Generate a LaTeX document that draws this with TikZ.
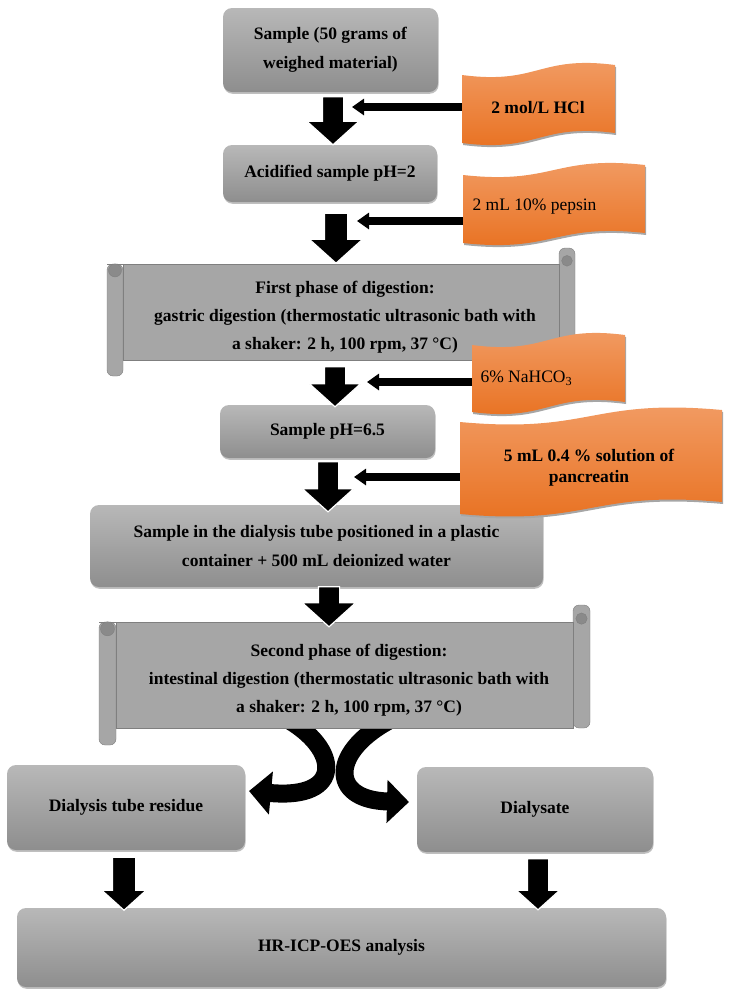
\documentclass[tikz,border=0pt]{standalone}
\usepackage{fontspec}
\setmainfont{Liberation Serif}
\usetikzlibrary{shapes.arrows,shadows,arrows.meta}
\definecolor{boxtop}{HTML}{B8B8B8}
\definecolor{boxbot}{HTML}{8E8E8E}
\definecolor{scrollgray}{HTML}{A6A6A6}
\definecolor{scrolledge}{HTML}{7F7F7F}
\definecolor{curlgray}{HTML}{8A8A8A}
\definecolor{orangetop}{HTML}{F29D66}
\definecolor{orangebot}{HTML}{E8701F}
\tikzset{
  stepbox/.style={rounded corners=9pt, top color=boxtop, bottom color=boxbot, align=center,
    font=\fontsize{17.5}{29}\selectfont\bfseries,
    drop shadow={shadow xshift=0.6pt, shadow yshift=-1.8pt, opacity=0.5}},
  downarrow/.style 2 args={single arrow, fill=black, draw=white, line width=1.2pt, rotate=-90,
    inner xsep=0pt, inner ysep=10pt, single arrow tip angle=96, single arrow head indent=0pt,
    minimum width=0pt, minimum height=#1, single arrow head extend=#2},
  feed/.style={line width=8pt, -{Triangle[length=12pt,width=16pt]}},
  splitarrow/.style={line width=18pt, -{Triangle[length=22pt,width=42pt]}},
  scrolltext/.style={align=center, font=\fontsize{17.5}{28}\selectfont\bfseries},
  wavetext/.style={font=\fontsize{17.5}{21}\selectfont}
}
\newcommand{\wavepath}[5]{(#1,{#2+#5}) .. controls ({(#1+#3)/2},{#2+3*#5}) and ({(#1+#3)/2},{#2-3*#5}) .. (#3,{#2-#5}) -- (#3,{#4-#5}) .. controls ({(#1+#3)/2},{#4-3*#5}) and ({(#1+#3)/2},{#4+3*#5}) .. (#1,{#4+#5}) -- cycle}
\newcommand{\orangewave}[5]{%
  \fill[black!35, xshift=1pt, yshift=-2pt] \wavepath{#1}{#2}{#3}{#4}{#5};
  \shade[top color=orangetop, bottom color=orangebot] \wavepath{#1}{#2}{#3}{#4}{#5};}
\newcommand{\scrollshape}[5]{%
  \filldraw[fill=scrollgray, draw=scrolledge, rounded corners=6pt] (#1,{#2+#5}) rectangle ({#1+#5},#4);
  \filldraw[fill=scrollgray, draw=scrolledge, rounded corners=6pt] ({#3-#5},#2) rectangle (#3,{#4-#5});
  \filldraw[fill=scrollgray, draw=scrolledge] ({#1+#5},{#2+#5}) rectangle ({#3-#5},{#4-#5});
  \draw[scrolledge] (#1,{#2+#5}) -- ({#1+#5},{#2+#5});
  \filldraw[fill=curlgray, draw=scrolledge] ({#1+#5/2},{#2+1.4*#5}) circle ({#5/2-1.5});
  \filldraw[fill=curlgray, draw=scrolledge] ({#3-#5/2},{#2+0.8*#5}) circle ({#5/3});}

\begin{document}
\begin{tikzpicture}[x=1pt, y=-1pt]
\useasboundingbox (0,0) rectangle (729,994);

\coordinate (lstart) at (285,718);
\coordinate (ltip) at (249,791);
\coordinate (rstart) at (394,718);
\coordinate (rtip) at (409,802);
\draw[splitarrow] (lstart) .. controls (340,748) and (345,800) .. (ltip);
\draw[splitarrow] (rstart) .. controls (330,750) and (328,800) .. (rtip);

\scrollshape{107}{248}{575}{376}{16}
\scrollshape{99}{605}{590}{745}{17}
\node[scrolltext] (phase1) at (345,317) {First phase of digestion:\\gastric digestion (thermostatic ultrasonic bath with\\a shaker: 2 h, 100 rpm, 37 °C)};
\node[scrolltext] (phase2) at (349,680) {Second phase of digestion:\\intestinal digestion (thermostatic ultrasonic bath with\\a shaker: 2 h, 100 rpm, 37 °C)};

\node[stepbox, minimum width=215, minimum height=84] (sample) at (330.5,50) {Sample (50 grams of\\weighed material)};
\node[stepbox, minimum width=214, minimum height=57] (acid) at (330,173.5) {Acidified sample pH=2};
\node[stepbox, minimum width=215, minimum height=53] (ph) at (327.5,431.5) {Sample pH=6.5};
\node[stepbox, minimum width=453, minimum height=82] (tube) at (316.5,546) {Sample in the dialysis tube positioned in a plastic\\container + 500 mL deionized water};
\node[stepbox, minimum width=238, minimum height=85] (residue) at (126,807.5) {Dialysis tube residue};
\node[stepbox, minimum width=236, minimum height=85] (dialysate) at (535,809.5) {Dialysate};
\node[stepbox, minimum width=649, minimum height=79] (hr) at (341.5,947.5) {HR-ICP-OES analysis};

\orangewave{462}{70}{615}{138}{5}
\orangewave{463}{170}{645}{238}{5}
\orangewave{472}{340}{625}{407}{5}
\orangewave{460}{416}{722}{508}{6}
\node[font=\fontsize{17.5}{21}\selectfont\bfseries] (hcl) at (538,108) {2 mol/L HCl};
\node[wavetext, anchor=west] (pepsin) at (469,207) {2 mL 10\% pepsin};
\node[wavetext, anchor=west] (nahco) at (477,378) {6\% NaHCO\textsubscript{3}};
\node[align=center, font=\fontsize{17.5}{21}\selectfont\bfseries] (pancreatin) at (589,468) {5 mL 0.4 \% solution of\\pancreatin};

\node[downarrow={48}{15.5}] (a1) at (333,116) {};
\node[downarrow={50}{15}, inner ysep=11pt] (a2) at (336,233) {};
\node[downarrow={40}{15}] (a3) at (335,382) {};
\node[downarrow={50}{15}] (a4) at (328,482) {};
\node[downarrow={40}{16}] (a5) at (329,602) {};
\node[downarrow={53}{10.5}, inner ysep=11pt] (a6) at (124,878.5) {};
\node[downarrow={51}{11}] (a7) at (538,879.5) {};

\coordinate (hclin) at (462,107);
\coordinate (hclout) at (352,107);
\coordinate (pepin) at (463,221);
\coordinate (pepout) at (357,221);
\coordinate (nain) at (472,382);
\coordinate (naout) at (367,382);
\coordinate (panin) at (460,477);
\coordinate (panout) at (354,477);
\draw[feed] (hclin) -- (hclout);
\draw[feed] (pepin) -- (pepout);
\draw[feed] (nain) -- (naout);
\draw[feed] (panin) -- (panout);
\end{tikzpicture}
\end{document}
